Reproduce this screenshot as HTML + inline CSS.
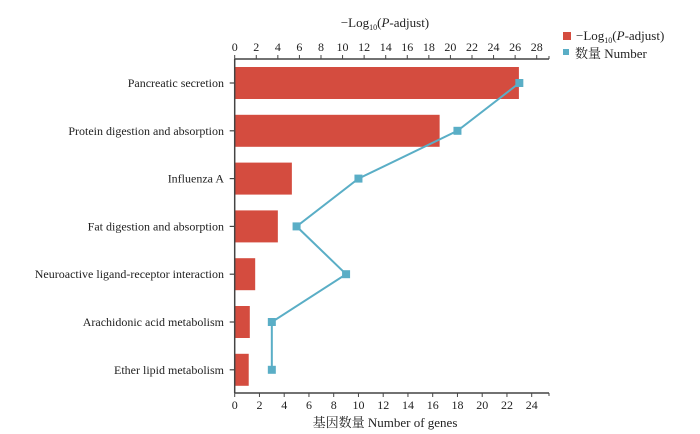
<!DOCTYPE html>
<html><head><meta charset="utf-8"><style>
body{margin:0;background:#fff;}
svg{display:block;font-family:"Liberation Serif","Noto Serif CJK SC",serif;}
</style></head><body>
<svg id="chart" width="700" height="434" viewBox="0 0 700 434"></svg>
<script>
const categories=["Pancreatic secretion","Protein digestion and absorption","Influenza A","Fat digestion and absorption","Neuroactive ligand-receptor interaction","Arachidonic acid metabolism","Ether lipid metabolism"];
const pAdjust=[26.35,19.0,5.3,4.0,1.9,1.4,1.3];
const geneCounts=[23,18,10,5,9,3,3];
const topTicks=[0,2,4,6,8,10,12,14,16,18,20,22,24,26,28];
const bottomTicks=[0,2,4,6,8,10,12,14,16,18,20,22,24];

const NS="http://www.w3.org/2000/svg";
const svg=document.getElementById('chart');
const X0=234.7, topY=59, botY=393, axEnd=549;
const xTop=v=>X0+v*(536.7-X0)/28;
const xBot=v=>X0+v*(531.7-X0)/24;
const yRow=i=>83+i*47.8;
function mk(tag,attrs,txt){const e=document.createElementNS(NS,tag);for(const k in attrs)e.setAttribute(k,attrs[k]);if(txt!==undefined)e.textContent=txt;svg.appendChild(e);return e;}

// bars
categories.forEach((c,i)=>{
  const b=mk('rect',{x:X0,y:yRow(i)-16,width:xTop(pAdjust[i])-X0,height:32,fill:'#d44c3f'});
  
  
  const t=mk('text',{x:224,y:yRow(i)+4,'text-anchor':'end','font-size':12,fill:'#222'},c);
  
  
  const tk=mk('line',{x1:X0-5,x2:X0,y1:yRow(i),y2:yRow(i),stroke:'#444','stroke-width':1.2});
  
  
});
// axes
const la=mk('line',{x1:X0,x2:X0,y1:topY,y2:botY,stroke:'#444','stroke-width':1.5});

const ta=mk('line',{x1:X0,x2:axEnd,y1:topY,y2:topY,stroke:'#444','stroke-width':1.5});

const ba=mk('line',{x1:X0,x2:axEnd,y1:botY,y2:botY,stroke:'#444','stroke-width':1.5});

mk('line',{x1:axEnd,x2:axEnd,y1:topY-3,y2:topY,stroke:'#444'});
mk('line',{x1:axEnd,x2:axEnd,y1:botY,y2:botY+3,stroke:'#444'});
topTicks.forEach(v=>{
  const x=xTop(v);
  mk('line',{x1:x,x2:x,y1:topY-4,y2:topY,stroke:'#444'});
  const t=mk('text',{x:x,y:topY-8,'text-anchor':'middle','font-size':12,fill:'#222'},String(v));
  
});
bottomTicks.forEach(v=>{
  const x=xBot(v);
  mk('line',{x1:x,x2:x,y1:botY,y2:botY+4,stroke:'#444'});
  const t=mk('text',{x:x,y:botY+16,'text-anchor':'middle','font-size':12,fill:'#222'},String(v));
  
});
// line series
const pts=geneCounts.map((v,i)=>xBot(v)+','+yRow(i)).join(' ');
const pl=mk('polyline',{points:pts,fill:'none',stroke:'#5aaec6','stroke-width':2});

geneCounts.forEach((v,i)=>{
  const p=mk('rect',{x:xBot(v)-4,y:yRow(i)-4,width:8,height:8,fill:'#5aaec6'});
  
  
});
// titles
const tt=mk('text',{x:385,y:27,'text-anchor':'middle','font-size':13,fill:'#222'});
tt.innerHTML='−Log<tspan font-size="8" dy="3">10</tspan><tspan dy="-3">(</tspan><tspan font-style="italic">P</tspan>-adjust)';

const bt=mk('text',{x:385,y:427,'text-anchor':'middle','font-size':13,fill:'#222'},'基因数量  Number of genes');

// legend
const l1=mk('rect',{x:563,y:32,width:8,height:8,fill:'#d44c3f'});

const lt1=mk('text',{x:576,y:40,'font-size':13,fill:'#222'});
lt1.innerHTML='−Log<tspan font-size="8" dy="3">10</tspan><tspan dy="-3">(</tspan><tspan font-style="italic">P</tspan>-adjust)';

const l2=mk('rect',{x:563,y:49,width:6,height:6,fill:'#5aaec6'});

const lt2=mk('text',{x:575,y:58,'font-size':13,fill:'#222'},'数量  Number');

</script>
</body></html>
